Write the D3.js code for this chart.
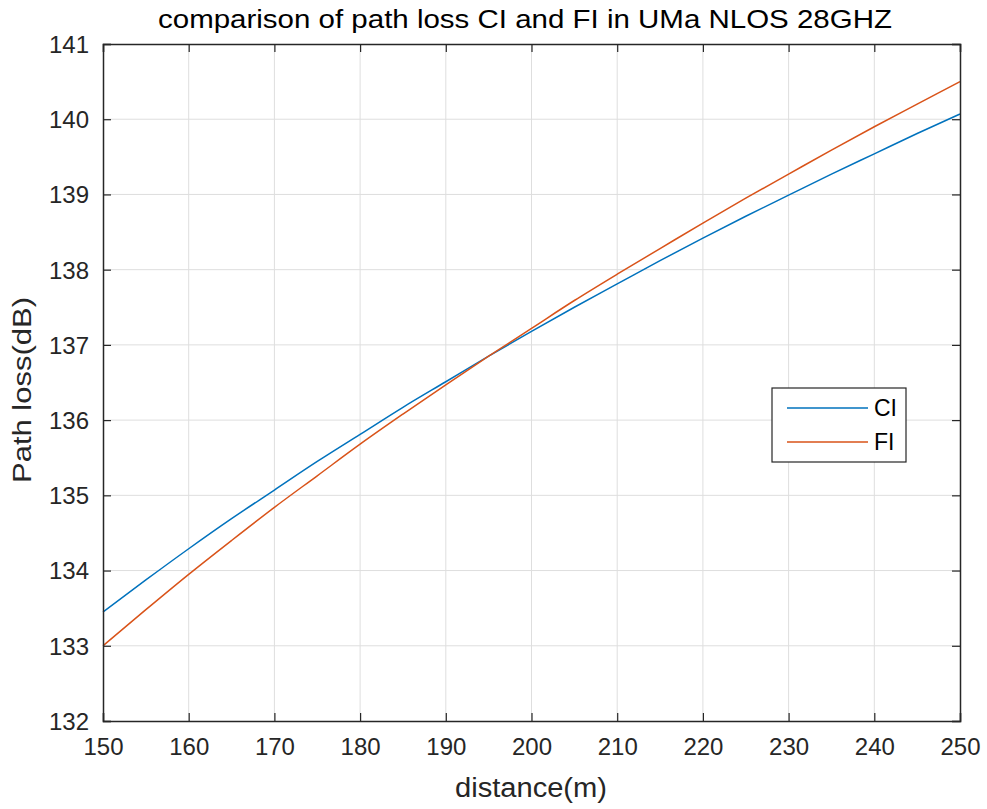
<!DOCTYPE html>
<html><head><meta charset="utf-8">
<script src="https://cdn.jsdelivr.net/npm/d3@7"></script>
<style>
body{margin:0;background:#fff;}
svg{display:block;font-family:"Liberation Sans",Arial,sans-serif;}
</style></head>
<body>
<svg id="c" width="987" height="809"></svg>
<script>
const distance = [150,155,160,165,170,175,180,185,190,195,200,205,210,215,220,225,230,235,240,245,250];
const ciLoss = [133.45,133.875,134.29,134.69,135.07,135.45,135.81,136.17,136.51,136.85,137.18,137.50,137.81,138.12,138.42,138.71,138.99,139.27,139.54,139.81,140.07];
const fiLoss = [133.00,133.48,133.95,134.40,134.84,135.26,135.68,136.08,136.47,136.85,137.22,137.59,137.94,138.28,138.62,138.95,139.27,139.59,139.90,140.20,140.50];
const xTicks = [150,160,170,180,190,200,210,220,230,240,250];
const yTicks = [132,133,134,135,136,137,138,139,140,141];
const seriesNames = ["CI","FI"];

const svg = d3.select("#c");
const L=103, R=960, T=44, B=721;
const x = d3.scaleLinear().domain([150,250]).range([L,R]);
const y = d3.scaleLinear().domain([132,141]).range([B,T]);
const axisCol = "#262626";
const fs = 24;

// grid
const g = svg.append("g");
g.selectAll(".gx").data(xTicks.slice(1,-1)).enter().append("line")
  .attr("x1",d=>x(d)).attr("x2",d=>x(d)).attr("y1",T).attr("y2",B)
  .attr("stroke","#dedede").attr("stroke-width",1);
g.selectAll(".gy").data(yTicks.slice(1,-1)).enter().append("line")
  .attr("y1",d=>y(d)).attr("y2",d=>y(d)).attr("x1",L).attr("x2",R)
  .attr("stroke","#dedede").attr("stroke-width",1);

// lines
const line = d3.line().x((d,i)=>x(distance[i])).y(d=>y(d)).curve(d3.curveMonotoneX);
const colors = ["#0072BD","#D95319"];
[ciLoss,fiLoss].forEach((s,k)=>{
  svg.append("path").attr("d",line(s)).attr("fill","none")
    .attr("stroke",colors[k]).attr("stroke-width",1.5);
});

// axes
const ax = svg.append("g").attr("transform",`translate(0,${B})`)
  .call(d3.axisBottom(x).tickValues(xTicks).tickSize(-8).tickPadding(22).tickFormat(d3.format("d")));
const axT = svg.append("g").attr("transform",`translate(0,${T})`)
  .call(d3.axisTop(x).tickValues(xTicks).tickSize(-8).tickFormat(""));
const ay = svg.append("g").attr("transform",`translate(${L},0)`)
  .call(d3.axisLeft(y).tickValues(yTicks).tickSize(-8).tickPadding(14).tickFormat(d3.format("d")));
const ayR = svg.append("g").attr("transform",`translate(${R},0)`)
  .call(d3.axisRight(y).tickValues(yTicks).tickSize(-8).tickFormat(""));
[ax,axT,ay,ayR].forEach(a=>{
  a.select(".domain").attr("stroke",axisCol).attr("stroke-width",1.5);
  a.selectAll(".tick line").attr("stroke",axisCol).attr("stroke-width",1.2);
  a.selectAll("text").attr("fill",axisCol).style("font-size",fs+"px")
    .style("font-family",'"Liberation Sans",Arial,sans-serif');
});
ax.selectAll(".tick text").attr("dy","0.5em");
ay.selectAll(".tick text").attr("dy","0.35em");

// title & labels
svg.append("text").attr("x",525).attr("y",28).attr("text-anchor","middle")
  .attr("fill","#000").style("font-size","25px")
  .attr("textLength",734).attr("lengthAdjust","spacingAndGlyphs")
  .text("comparison of path loss CI and FI in UMa NLOS 28GHZ");
svg.append("text").attr("x",531).attr("y",797).attr("text-anchor","middle")
  .attr("fill",axisCol).style("font-size","27px")
  .attr("textLength",152).attr("lengthAdjust","spacingAndGlyphs")
  .text("distance(m)");
svg.append("text").attr("transform","translate(31,390) rotate(-90)").attr("text-anchor","middle")
  .attr("fill",axisCol).style("font-size","25px")
  .attr("textLength",186).attr("lengthAdjust","spacingAndGlyphs")
  .text("Path loss(dB)");

// legend
const lg = svg.append("g");
lg.append("rect").attr("x",772).attr("y",388).attr("width",134).attr("height",74)
  .attr("fill","#fff").attr("stroke",axisCol).attr("stroke-width",1.2);
seriesNames.forEach((n,i)=>{
  const yy = 408 + i*34;
  lg.append("line").attr("x1",787).attr("x2",868).attr("y1",yy).attr("y2",yy)
    .attr("stroke",colors[i]).attr("stroke-width",1.5);
  lg.append("text").attr("x",874).attr("y",yy).attr("dy","0.35em")
    .attr("fill","#000").style("font-size","23px").text(n);
});
</script>
</body></html>
